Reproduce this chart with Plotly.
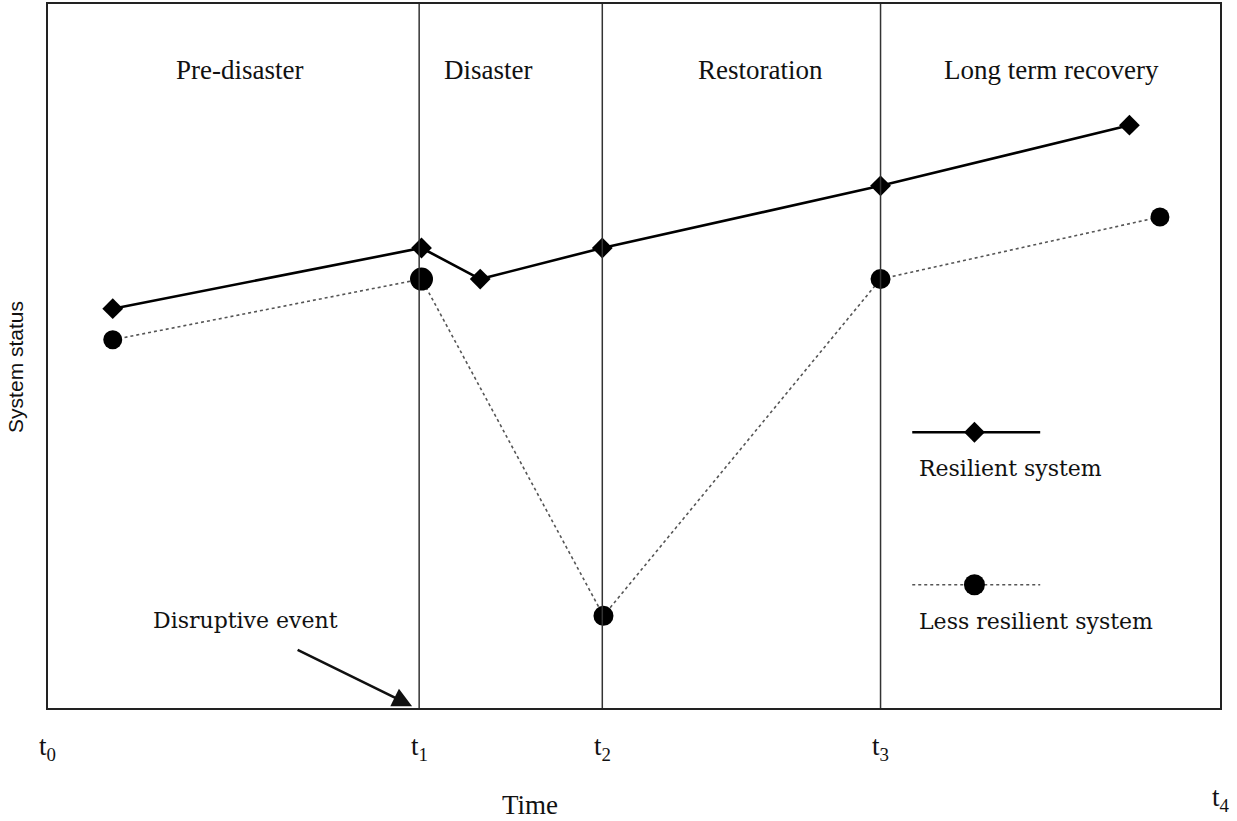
import plotly.graph_objects as go

# ---- data (time units 0..100, status 0..100) ----
phase_bounds = [31.7, 47.3, 71.0]
phase_names = ["Pre-disaster", "Disaster", "Restoration", "Long term recovery"]
phase_centers = [16.4, 37.6, 60.8, 85.6]

res_x = [5.6, 31.9, 36.9, 47.3, 71.0, 92.2]
res_y = [56.7, 65.3, 60.9, 65.3, 74.1, 82.7]

less_x = [5.6, 31.9, 47.4, 71.0, 94.8]
less_y = [52.3, 60.9, 13.2, 60.9, 69.7]
less_sizes = [19, 23, 20, 20, 19]

tick_x = [0.0, 31.7, 47.3, 71.0, 100.0]
tick_labels = ["t<sub>0</sub>", "t<sub>1</sub>", "t<sub>2</sub>", "t<sub>3</sub>", "t<sub>4</sub>"]
tick_y = [-0.055, -0.055, -0.055, -0.055, -0.127]

event_x = 31.1

SERIF = "Liberation Serif"
LEGF = "DejaVu Serif"
INK = "#111111"

fig = go.Figure()

fig.add_trace(go.Scatter(
    x=less_x, y=less_y, mode="lines+markers",
    line=dict(color="#555555", width=1.6, dash="dot"),
    marker=dict(symbol="circle", size=less_sizes, color="black", opacity=1,
                line=dict(color="black", width=0)),
    showlegend=False, cliponaxis=False, hoverinfo="skip"))
fig.add_trace(go.Scatter(
    x=res_x, y=res_y, mode="lines+markers",
    line=dict(color="black", width=2.6),
    marker=dict(symbol="diamond", size=16, color="black"),
    showlegend=False, cliponaxis=False, hoverinfo="skip"))

# legend samples on an overlay axis (0..1)
fig.add_trace(go.Scatter(
    x=[0.737, 0.790, 0.846], y=[0.392, 0.392, 0.392], mode="lines",
    line=dict(color="black", width=2.6), xaxis="x2", yaxis="y2", showlegend=False, hoverinfo="skip"))
fig.add_trace(go.Scatter(
    x=[0.790], y=[0.392], mode="markers",
    marker=dict(symbol="diamond", size=16, color="black"), xaxis="x2", yaxis="y2",
    showlegend=False, hoverinfo="skip"))
fig.add_trace(go.Scatter(
    x=[0.737, 0.846], y=[0.176, 0.176], mode="lines",
    line=dict(color="#555555", width=1.6, dash="dot"), xaxis="x2", yaxis="y2",
    showlegend=False, hoverinfo="skip"))
fig.add_trace(go.Scatter(
    x=[0.790], y=[0.176], mode="markers",
    marker=dict(symbol="circle", size=21, color="black"), xaxis="x2", yaxis="y2",
    showlegend=False, hoverinfo="skip"))

shapes = [dict(type="line", xref="x", yref="paper", x0=b, x1=b, y0=0, y1=1,
               line=dict(color="#333333", width=1.5)) for b in phase_bounds]
shapes.append(dict(type="rect", xref="paper", yref="paper", x0=0, x1=1, y0=0, y1=1,
                   line=dict(color="#222222", width=2)))


def txt(x, y, text, family, size, xref="paper", yref="paper", xanchor="center", angle=0):
    return dict(x=x, y=y, xref=xref, yref=yref, text=text, showarrow=False,
                xanchor=xanchor, yanchor="middle", textangle=angle,
                font=dict(family=family, size=size, color=INK))


annotations = []
for name, cx in zip(phase_names, phase_centers):
    annotations.append(txt(cx, 0.905, name, SERIF, 27, xref="x"))
for tx, ty, tl in zip(tick_x, tick_y, tick_labels):
    annotations.append(txt(tx, ty, tl, SERIF, 27, xref="x"))
annotations.append(txt(0.411, -0.136, "Time", SERIF, 27))
annotations.append(txt(-0.027, 0.485, "System status", "Liberation Sans", 21, angle=-90))
annotations.append(txt(0.741, 0.341, "Resilient system", LEGF, 22, xanchor="left"))
annotations.append(txt(0.741, 0.124, "Less resilient system", LEGF, 22, xanchor="left"))
annotations.append(txt(0.169, 0.126, "Disruptive event", LEGF, 22))
annotations.append(dict(x=event_x, y=0.4, xref="x", yref="y", text="", showarrow=True,
                        ax=-116, ay=-57, arrowhead=2, arrowsize=1.5, arrowwidth=2.6,
                        arrowcolor=INK))

fig.update_layout(
    width=1237, height=821,
    margin=dict(l=47, r=16, t=3, b=112),
    paper_bgcolor="white", plot_bgcolor="white",
    hovermode=False,
    xaxis=dict(range=[0, 100], showgrid=False, zeroline=False, showticklabels=False, ticks=""),
    yaxis=dict(range=[0, 100], showgrid=False, zeroline=False, showticklabels=False, ticks=""),
    xaxis2=dict(range=[0, 1], overlaying="x", visible=False),
    yaxis2=dict(range=[0, 1], overlaying="y", visible=False),
    shapes=shapes, annotations=annotations,
)

fig.write_html("out.html", config={"displayModeBar": False},
               post_script="document.body.style.margin='0';document.body.style.overflow='hidden';")
